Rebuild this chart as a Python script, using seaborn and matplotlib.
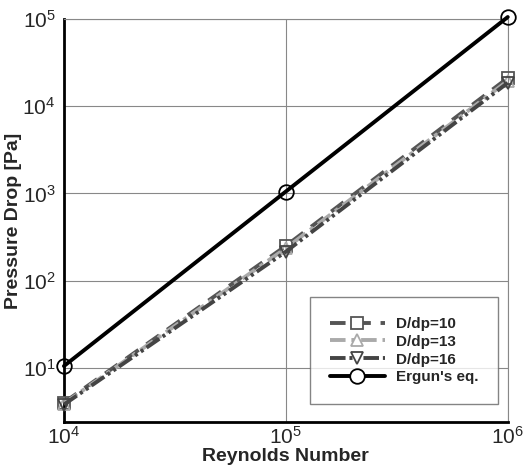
import matplotlib
matplotlib.use('Agg')
import matplotlib.pyplot as plt
import seaborn as sns
import pandas as pd
from matplotlib.ticker import LogLocator, LogFormatterSciNotation, NullFormatter

reynolds = [1e4, 1e5, 1e6]
dp_10 = [4.0, 250, 21000]
dp_13 = [3.9, 235, 19500]
dp_16 = [3.8, 215, 18500]
ergun = [10.5, 1050, 105000]

series_names = ['D/dp=10', 'D/dp=13', 'D/dp=16', "Ergun's eq."]

sns.set_style('white')
plt.rcParams['font.family'] = ['Liberation Sans', 'DejaVu Sans']
plt.rcParams['mathtext.fontset'] = 'custom'
plt.rcParams['mathtext.rm'] = 'Liberation Sans'
plt.rcParams['mathtext.default'] = 'regular'

df = pd.DataFrame({
    'Re': reynolds * 4,
    'dP': dp_10 + dp_13 + dp_16 + ergun,
    'series': [s for s in series_names for _ in reynolds],
})

styles = {
    'D/dp=10': dict(color='#555555', marker='s', ms=8, lw=2.8, ls=(0, (4, 2.5))),
    'D/dp=13': dict(color='#aaaaaa', marker='^', ms=8, lw=2.8, ls=(0, (4, 1.5, 1, 1.5))),
    'D/dp=16': dict(color='#444444', marker='v', ms=8, lw=2.8, ls=(0, (4, 1, 0.8, 1, 0.8, 1))),
    "Ergun's eq.": dict(color='black', marker='o', ms=10.5, lw=2.8, ls='-'),
}

fig = plt.figure(figsize=(5.24, 4.72), dpi=100)
ax = fig.add_axes([0.122, 0.106, 0.847, 0.854])

for name in series_names:
    st = styles[name]
    sub = df[df['series'] == name]
    sns.lineplot(data=sub, x='Re', y='dP', ax=ax, color=st['color'],
                 marker=st['marker'], markersize=st['ms'], linewidth=st['lw'],
                 linestyle=st['ls'], markerfacecolor='none',
                 markeredgecolor=st['color'], markeredgewidth=1.3,
                 label=name, zorder=3, clip_on=False)

ax.set_xscale('log')
ax.set_yscale('log')
ax.set_xlim(1e4, 1e6)
ax.set_ylim(2.4, 1e5)

ax.xaxis.set_major_locator(LogLocator(base=10, numticks=10))
ax.yaxis.set_major_locator(LogLocator(base=10, numticks=10))
ax.xaxis.set_minor_locator(LogLocator(base=10, subs=range(2, 10), numticks=20))
ax.yaxis.set_minor_locator(LogLocator(base=10, subs=range(2, 10), numticks=20))
ax.xaxis.set_major_formatter(LogFormatterSciNotation())
ax.yaxis.set_major_formatter(LogFormatterSciNotation())
ax.xaxis.set_minor_formatter(NullFormatter())
ax.yaxis.set_minor_formatter(NullFormatter())

ax.tick_params(which='both', direction='in', top=False, right=False, labelsize=15, color='black')
ax.tick_params(which='major', length=8, width=1.5, pad=6)
ax.tick_params(axis='x', which='major', pad=3)
ax.tick_params(which='minor', length=4, width=0.8)

ax.grid(True, which='major', color='#888888', linewidth=0.8)
ax.grid(False, which='minor')
for side in ['left', 'bottom']:
    ax.spines[side].set_linewidth(2)
    ax.spines[side].set_color('black')
for side in ['right', 'top']:
    ax.spines[side].set_linewidth(0.8)
    ax.spines[side].set_color('#888888')

ax.set_xlabel('Reynolds Number', fontsize=14, fontweight='bold', labelpad=0)
ax.set_ylabel('Pressure Drop [Pa]', fontsize=14, fontweight='bold', labelpad=0)

leg = ax.legend(loc='lower right', bbox_to_anchor=(0.995, 0.025),
                prop={'weight': 'bold', 'size': 11}, handlelength=3.6,
                frameon=True, fancybox=False, edgecolor='#666666',
                borderpad=1.3, labelspacing=0.25, handletextpad=0.7)
leg.get_frame().set_linewidth(1.0)
for h in leg.get_lines():
    h.set_markerfacecolor('white')

fig.savefig('out.png', dpi=100)
